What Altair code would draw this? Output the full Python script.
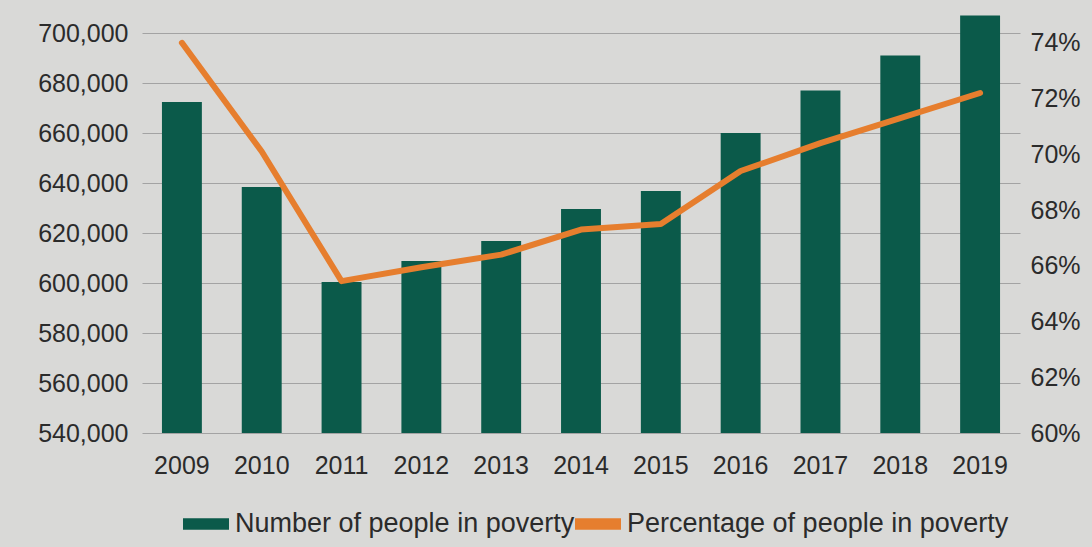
import altair as alt
import pandas as pd

years = ["2009", "2010", "2011", "2012", "2013", "2014", "2015", "2016", "2017", "2018", "2019"]
people = [672400, 638400, 600400, 608800, 616800, 629600, 636800, 660000, 677000, 691000, 707000]
pct = [0.740, 0.701, 0.6545, 0.6595, 0.664, 0.673, 0.675, 0.694, 0.704, 0.713, 0.722]
series_names = ["Number of people in poverty", "Percentage of people in poverty"]
left_ticks = [540000, 560000, 580000, 600000, 620000, 640000, 660000, 680000, 700000]
right_ticks = [0.60, 0.62, 0.64, 0.66, 0.68, 0.70, 0.72, 0.74]

GREEN = "#0b5a4a"
ORANGE = "#e67e2e"
BG = "#d9d9d7"
TXT = "#2b2b2b"
FONT = "Liberation Sans"

df = pd.DataFrame({"year": years, "people": people, "pct": pct})

color = alt.Color(
    "series:N",
    scale=alt.Scale(domain=series_names, range=[GREEN, ORANGE]),
    legend=alt.Legend(
        title=None,
        orient="none",
        legendX=41,
        legendY=493,
        direction="horizontal",
        symbolType="M-1,-0.25H1V0.25H-1Z",
        symbolSize=2116,
        symbolStrokeWidth=0,
        labelFontSize=27,
        labelFont=FONT,
        labelColor=TXT,
        labelOffset=6,
        columnPadding=0,
        padding=0,
        labelLimit=600,
    ),
)

x = alt.X(
    "year:N",
    sort=years,
    scale=alt.Scale(paddingInner=0.5, paddingOuter=0.25),
    axis=alt.Axis(title=None, labelAngle=0, ticks=False, domain=False,
                  labelFontSize=25, labelPadding=20, labelFont=FONT, labelColor=TXT),
)

bars = alt.Chart(df).transform_calculate(
    series=f"'{series_names[0]}'"
).mark_bar(clip=True).encode(
    x=x,
    y=alt.Y("people:Q",
            scale=alt.Scale(domain=[540000, 710000], nice=False, zero=False),
            axis=alt.Axis(values=left_ticks, format=",d", title=None, ticks=False,
                          domain=False, grid=True, gridColor="#a3a3a3", gridWidth=1,
                          labelFontSize=25, labelPadding=14, labelFont=FONT,
                          labelColor=TXT)),
    color=color,
)

line = alt.Chart(df).transform_calculate(
    series=f"'{series_names[1]}'"
).mark_line(strokeWidth=6, strokeCap="round", strokeJoin="round").encode(
    x=x,
    y=alt.Y("pct:Q",
            scale=alt.Scale(domain=[0.60, 0.7525], nice=False, zero=False),
            axis=alt.Axis(orient="right", values=right_ticks, format=".0%", title=None,
                          ticks=False, domain=False, grid=False,
                          labelFontSize=25, labelPadding=10, labelFont=FONT,
                          labelColor=TXT)),
    color=color,
)

chart = alt.layer(bars, line).resolve_scale(y="independent").properties(
    width=878,
    height=425,
    padding={"left": 142, "top": 8, "right": 72, "bottom": 114},
    autosize=alt.AutoSizeParams(type="none"),
    background=BG,
).configure_view(stroke=None)

chart.save("out.html", embed_options={"renderer": "svg", "actions": False})
